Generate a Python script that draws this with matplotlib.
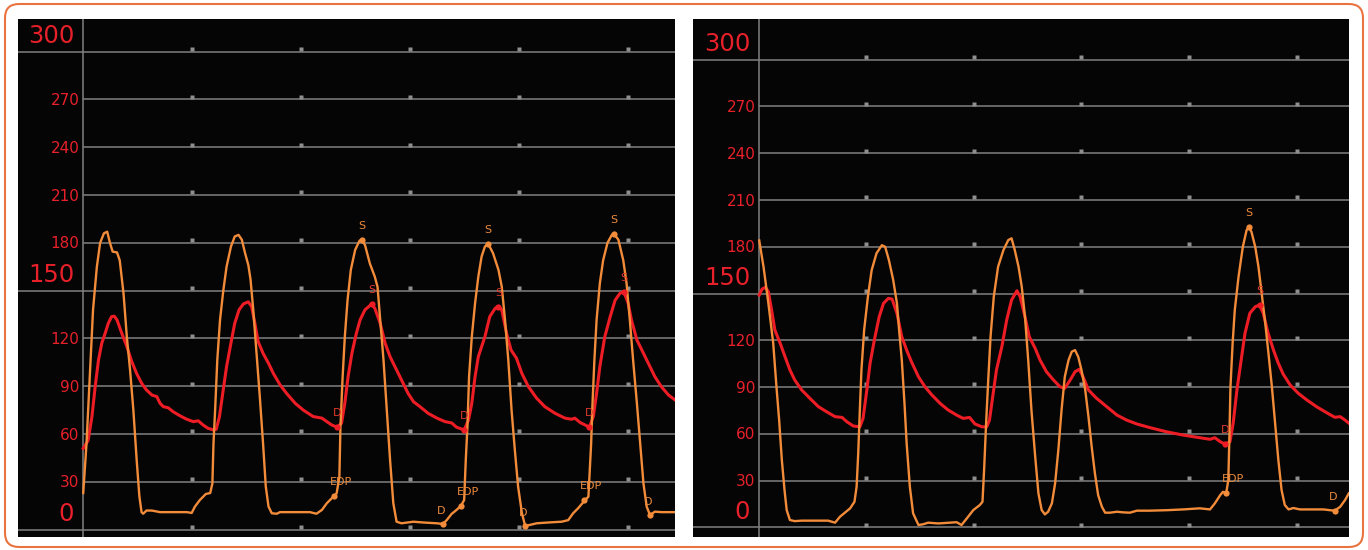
import matplotlib
matplotlib.use("Agg")
import matplotlib.pyplot as plt
from matplotlib.patches import FancyBboxPatch

plt.rcParams['font.family'] = ['DejaVu Sans']

# ---------------- data (time in ms, pressure in mmHg) ----------------
levels_major = [0, 150, 300]
levels_minor = [30, 60, 90, 120, 180, 210, 240, 270]
marker_times = [200, 400, 600, 800, 1000]

# Left panel: LV pressure (orange) and aortic pressure (red)
left_lv_t = [1, 7, 13, 19, 26, 32, 39, 45, 50, 55, 63, 68, 75, 81, 87, 93, 99, 104, 108, 111,
             117, 127, 142, 166, 191, 200, 206, 215, 226, 234, 238, 240, 243, 247, 252, 258, 264, 272, 279, 286,
             292, 298, 304, 308, 313, 319, 325, 331, 336, 341, 347, 356, 362,
             393, 417, 429, 439, 448, 460, 466, 471, 473, 477, 481, 486, 492, 500, 508, 512, 518, 527, 536, 541,
             546, 552, 558, 564, 570, 576, 585, 607, 625, 650, 661, 668, 677, 686, 694, 700, 703, 706, 709, 714,
             720, 726,
             732, 738, 744, 753, 763, 769, 775, 781, 787, 793, 799, 806, 812, 821, 833, 854, 879, 891, 900, 909,
             917, 922, 928, 933, 935, 939, 943, 949, 955, 963, 971, 975, 983, 992, 998, 1004, 1010, 1017, 1023, 1029,
             1035, 1041, 1050, 1062, 1087]
left_lv_p = [23, 54, 96, 138, 165, 180, 186, 187, 180, 174.5, 174, 169, 148, 121, 100, 75, 44, 21, 11, 10,
             12, 12, 11, 11, 11, 10.5, 14.5, 18.6, 22.4, 23, 29, 54, 75, 106.5, 131.6, 150, 165, 177.6, 184, 185,
             182, 173.5, 166, 157, 138, 111, 83.5, 54, 27, 14.5, 10.3, 10, 11,
             11, 11, 10, 12.4, 16.6, 20.7, 22.8, 33, 64.6, 96, 121, 144, 163, 175.6, 181.4, 181.8, 178.7, 167, 158.8, 152.5,
             131.6, 106.5, 75, 44, 16.6, 5, 4, 5, 4.5, 4, 3.6, 6, 9.9, 12.4, 14.9, 18.6, 44, 64.6, 96, 121,
             142, 158.8,
             171.4, 177.6, 179.5, 173.5, 163, 152.5, 131.6, 106.5, 75, 50, 27, 10.3, 2.3, 3, 4, 4.5, 5, 6, 10.3, 13.4,
             16.6, 18.6, 20.7, 54, 75, 106.5, 131.6, 154.7, 169, 180, 185, 185.6, 182, 169, 154.7, 131.6, 106.5, 79.3, 54, 29,
             14.4, 9.2, 11.3, 11, 11]

left_ao_t = [1, 10, 17, 23, 29, 35, 41, 47, 53, 58, 63, 72, 81, 90, 99, 108, 117, 127, 136, 142,
             148, 157, 166, 179, 191, 203, 212, 221, 230, 240, 245, 251, 257, 264, 272, 279, 287, 295, 304, 310,
             316, 322, 331, 341, 350, 362,
             374, 390, 405, 423, 439, 448, 457, 467, 475, 481, 487, 494, 502, 509, 518, 530, 536, 546, 555, 564,
             573, 585, 597, 607, 619, 634, 650, 665, 677, 686, 700, 708, 714, 720, 726,
             738, 747, 757, 763, 769, 778, 786, 796, 806, 818, 833, 848, 867, 885, 897, 903, 913, 922, 930, 937,
             943, 949, 958, 968, 977, 986, 993, 1001, 1007, 1017, 1026, 1038, 1050, 1062, 1075, 1087]
left_ao_p = [51, 56, 71, 90, 106.5, 117, 123, 129.5, 133.7, 134, 131.6, 123, 115, 105.5, 98, 92, 87.7, 84.5, 83.5, 79.3,
             77.2, 76.5, 74, 71.4, 69.3, 67.8, 68.3, 65.7, 63.6, 62.6, 63, 71, 85.6, 102.3, 117, 129.5, 138, 141.7, 143, 140,
             129.5, 118, 110.7, 104.4, 98, 91,
             85.6, 79.3, 75, 71, 70, 67.8, 65.7, 64.3, 66.8, 79.3, 96, 110.7, 123, 131.6, 138, 141.5, 139, 129.5, 117, 108.6,
             102.3, 94, 85.6, 80.3, 77.2, 73, 70, 67.8, 67, 64.3, 62.6, 68.8, 79.3, 96, 108.6,
             121, 133.7, 139, 140, 138, 123, 112.8, 107.6, 98, 89.7, 82.5, 77.2, 73, 70, 69.3, 70, 67.2, 65.7, 64.3, 71,
             85.6, 102.3, 121, 133.7, 144, 148.4, 149.4, 142, 131.6, 119, 112.8, 104.4, 96, 89.7, 84.5, 81.4]

# Right panel
right_lv_t = [1, 9, 18, 27, 33, 38, 43, 48, 52, 58, 67, 80, 105, 129, 142, 151, 160, 170, 178, 182,
              185, 188, 191, 196, 203, 210, 219, 229, 235, 242, 250, 257, 261, 266, 271, 275, 281, 287, 297, 306,
              315, 334, 356, 368, 377, 387, 399, 411, 416, 419, 423, 427, 431, 437, 445, 455, 464, 470, 476, 483,
              489, 495, 501, 507, 514, 520, 526, 532, 538, 545, 551, 557, 563, 569, 576, 582, 588, 594, 600, 607,
              613, 619, 625, 631, 638, 644, 653, 666, 678, 690, 703, 727, 758, 789, 820, 839, 848, 858, 863, 869,
              873, 875, 877, 881, 885, 892, 900, 907, 911, 916, 923, 929, 935, 941, 947, 954, 960, 966, 972, 978,
              985, 994, 1006, 1025, 1050, 1062, 1071, 1081, 1090, 1097]
right_lv_p = [184, 167, 143.7, 118, 90.2, 68.8, 43.2, 23.9, 11.1, 4.7, 4, 4.3, 4.3, 4.3, 3, 6.8, 9.4, 12.2, 16.4, 26,
              47.5, 75.3, 101, 126.6, 148, 165, 175.8, 181, 180, 171.5, 158.7, 143.7, 126.6, 107.3, 79.6, 53.9, 26, 9, 1.5, 2,
              3, 2.5, 3, 3.3, 1.5, 5.8, 11.1, 14.3, 16.4, 36.8, 68.8, 96.6, 122.3, 148, 167.2, 177.9, 184.3, 185.4, 177.9, 167.2,
              154.4, 135.1, 107.3, 75.3, 45.3, 21.8, 11.1, 8.3, 10, 15.4, 28.2, 49.6, 75.3, 96.6, 107.3, 112.7, 113.7, 109.4, 101, 88.1,
              71, 51.7, 34.6, 20.7, 13.2, 9.4, 9.4, 10, 9.6, 9.4, 10.7, 10.7, 11, 11.5, 12.2, 11.5, 15.4, 20.7, 22.8, 21.8,
              30.3, 58.1, 90.2, 118, 139.4, 160.8, 180, 190.7, 192.5, 189.6, 180, 167.2, 150.1, 133, 113.7, 90.2, 66.7, 43.2, 23.9, 14.3,
              11.5, 12.4, 11.5, 11.5, 11.5, 11, 10.7, 13.2, 17.5, 21.8]

right_ao_t = [1, 6, 12, 18, 24, 30, 40, 49, 58, 67, 80, 95, 111, 126, 142, 155, 164, 176, 188, 194,
              201, 207, 215, 224, 232, 241, 248, 257, 266, 275, 284, 297, 309, 322, 337, 352, 368, 380, 392, 402,
              415, 424, 429, 435, 442, 452, 461, 470, 480, 486, 495, 503, 514, 523, 535, 548, 560, 569, 579, 588,
              596, 603, 613, 628, 647, 666, 684, 703, 727, 758, 789, 820, 839, 848, 858, 867, 876, 882, 889, 896,
              904, 913, 923, 931, 938, 947, 957, 966, 975, 988, 1003, 1019, 1037, 1056, 1071, 1081, 1090, 1099]
right_ao_p = [149, 152.7, 154, 151.2, 139.4, 126.6, 118, 109.4, 101, 94.5, 88.1, 82.8, 77.4, 74.2, 71, 70.5, 67.7, 65, 64.5, 69.9,
              88.1, 105.2, 120.2, 135.1, 143.7, 146.9, 146.4, 137.3, 122.3, 113.7, 106.2, 96.6, 90.2, 84.9, 79.6, 75.3, 72, 69.9, 70.5, 66.3,
              64.5, 64.5, 68.8, 83.8, 101, 115.9, 133, 145.8, 151.8, 148, 135.1, 122.3, 114.8, 107.3, 99.8, 94.5, 90.2, 89.2, 94.5, 99.8,
              101.4, 96.6, 88.1, 82.8, 77.4, 72, 68.8, 66.3, 64, 61.3, 59.2, 57.5, 56.5, 57.5, 54.9, 53.4, 54.9, 66.7, 88.1, 105.2,
              124.5, 137.3, 141.5, 142.6, 137.3, 124.5, 113.7, 105.2, 98.3, 91.3, 86, 81.7, 77.4, 73.5, 70.6, 71, 68.8, 66.3]

# Annotated points: (label, curve, t, p)
left_points = [("S", "lv", 512, 181.8), ("S", "lv", 744, 179.5), ("S", "lv", 975, 185.6),
               ("S", "ao", 530, 141.5), ("S", "ao", 763, 140.0), ("S", "ao", 993, 149.4),
               ("D", "ao", 467, 64.3), ("D", "ao", 700, 62.6), ("D", "ao", 930, 64.3),
               ("EDP", "lv", 461, 21.4), ("EDP", "lv", 694, 14.9), ("EDP", "lv", 920, 18.6),
               ("D", "lv", 661, 3.6), ("D", "lv", 812, 2.3), ("D", "lv", 1041, 9.2)]
right_points = [("S", "lv", 911, 192.5), ("S", "ao", 931, 142.6), ("D", "ao", 867, 53.4),
                ("EDP", "lv", 869, 21.8), ("D", "lv", 1071, 10.7)]

# ---------------- styling ----------------
W, H = 1368, 550
LV_COLOR = '#F28C3A'
AO_COLOR = '#EE1C24'
LV_LABEL = '#EC8A3C'
AO_LABEL = '#E23A2C'
TICK_COLOR = '#E8202A'
GRID = '#808080'
MARK = '#8E8E8E'

fig = plt.figure(figsize=(W / 100, H / 100), dpi=100)
fig.patch.set_facecolor('white')

bg = fig.add_axes([0, 0, 1, 1])
bg.set_xlim(0, W)
bg.set_ylim(H, 0)
bg.axis('off')
bg.add_patch(FancyBboxPatch((5, 4), 1358, 543, boxstyle='round,pad=0,rounding_size=14',
                            facecolor='white', edgecolor='#EA7440', linewidth=1.5))


def panel(rect, xlim, ylim, lv_t, lv_p, ao_t, ao_p, points):
    ax = fig.add_axes(rect)
    ax.set_facecolor('#050505')
    ax.set_xlim(*xlim)
    ax.set_ylim(*ylim)
    ax.set_xticks([])
    ax.set_yticks([])
    for s in ax.spines.values():
        s.set_visible(False)
    for lv in levels_major:
        ax.hlines(lv, xlim[0], xlim[1], color=GRID, lw=1.1, zorder=1)
        ax.annotate(str(lv), xy=(0, lv), xytext=(-6, 6), textcoords='offset points',
                    ha='right', va='baseline', fontsize=17.5, color=TICK_COLOR)
    for lv in levels_minor:
        ax.hlines(lv, 0, xlim[1], color=GRID, lw=1.1, zorder=1)
        ax.annotate(str(lv), xy=(0, lv), xytext=(-2.3, -4), textcoords='offset points',
                    ha='right', va='baseline', fontsize=11, color=TICK_COLOR)
    ax.axvline(0, color=GRID, lw=1.1, zorder=1)
    for lv in levels_major + levels_minor:
        ax.plot(marker_times, [lv + 1.7] * len(marker_times), 's', ms=3, color=MARK,
                mec='none', zorder=2)
    ax.plot(ao_t, ao_p, color=AO_COLOR, lw=2.2, zorder=3, solid_joinstyle='round')
    ax.plot(lv_t, lv_p, color=LV_COLOR, lw=1.7, zorder=4, solid_joinstyle='round')
    for lab, cur, t, p in points:
        col = LV_COLOR if cur == 'lv' else AO_COLOR
        tcol = LV_LABEL if cur == 'lv' else AO_LABEL
        ax.plot([t], [p], 'o', ms=4.5, color=col, mec='none', zorder=5)
        if lab == 'EDP':
            off = (5, 10)
        elif lab == 'D' and cur == 'lv':
            off = (-1.5, 9.5)
        else:
            off = (0, 10)
        ax.annotate(lab, xy=(t, p), xytext=off, textcoords='offset points',
                    ha='center', va='center', fontsize=8, color=tcol, zorder=6)
    return ax


panel([18 / W, 13 / H, 657 / W, 518 / H], (-118.7, 1086.9), (-4.6, 320.5),
      left_lv_t, left_lv_p, left_ao_t, left_ao_p, left_points)
panel([692.7 / W, 13.3 / H, 656.6 / W, 517.7 / H], (-122.7, 1097.9), (-6.0, 326.1),
      right_lv_t, right_lv_p, right_ao_t, right_ao_p, right_points)

fig.savefig('out.png', dpi=100, facecolor='white')
